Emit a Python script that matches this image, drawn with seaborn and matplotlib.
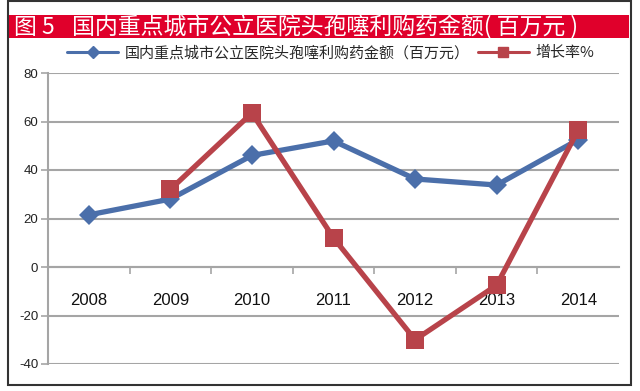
import matplotlib
matplotlib.use("Agg")
import matplotlib.pyplot as plt
import seaborn as sns
import pandas as pd
import numpy as np
from matplotlib.patches import Rectangle
from matplotlib.lines import Line2D

years = ["2008", "2009", "2010", "2011", "2012", "2013", "2014"]
amount = [21.5, 28.0, 46.0, 52.0, 36.3, 33.8, 52.5]
growth = [None, 32.0, 63.5, 12.0, -30.0, -7.5, 56.5]
series_names = ["国内重点城市公立医院头孢噻利购药金额（百万元）", "增长率%"]
title_left = "图 5"
title_main = "国内重点城市公立医院头孢噻利购药金额( 百万元 )"
yticks = [-40, -20, 0, 20, 40, 60, 80]

sns.set_theme(style="white")
plt.rcParams["font.family"] = ["Noto Sans CJK SC", "DejaVu Sans"]

blue = "#4B6FAA"
red = "#B8434A"
grid_c = "#A5A5A5"

fig = plt.figure(figsize=(6.4, 3.91), dpi=100)
ax = fig.add_axes([48/640, 1-364/391, (619-48)/640, (364-73)/391])

df = pd.DataFrame({"idx": np.arange(len(years)), "amount": amount,
                   "growth": pd.Series(growth, dtype=float)})

sns.lineplot(data=df, x="idx", y="amount", ax=ax, color=blue, lw=3.8,
             marker="D", markersize=10, markeredgewidth=0, zorder=3)
sns.lineplot(data=df.dropna(), x="idx", y="growth", ax=ax, color=red, lw=3.8,
             marker="s", markersize=13, markeredgewidth=0, zorder=4)

ax.set_xlim(-0.5, len(years) - 0.5)
ax.set_ylim(-40, 80)
ax.set_yticks(yticks)
ax.set_yticklabels([str(v) for v in yticks], fontsize=9.5, color="#222222",
                   family=["Liberation Sans"])
ax.yaxis.grid(True, color=grid_c, lw=1.5)
ax.set_axisbelow(True)
ax.tick_params(axis="y", left=True, length=5, width=1.2, color=grid_c, pad=2)
for s in ["top", "right"]:
    ax.spines[s].set_visible(False)
ax.spines["left"].set_color(grid_c)
ax.spines["left"].set_linewidth(1.5)
ax.spines["bottom"].set_position(("data", 0))
ax.spines["bottom"].set_color(grid_c)
ax.spines["bottom"].set_linewidth(1.5)
ax.set_xticks(np.arange(len(years)))
ax.set_xticklabels(years, fontsize=12, color="#111111", family=["Liberation Sans"])
ax.set_xticks(np.arange(len(years) - 1) + 0.5, minor=True)
ax.tick_params(axis="x", which="major", bottom=False, length=0, pad=19)
ax.tick_params(axis="x", which="minor", bottom=True, length=5, width=1.2,
               color=grid_c, direction="out")
ax.set_xlabel("")
ax.set_ylabel("")

handles = [Line2D([], [], color=blue, lw=2.2, marker="D", markersize=6),
           Line2D([], [], color=red, lw=2.2, marker="s", markersize=7)]
fig.legend(handles, series_names, loc="center", bbox_to_anchor=(0.517, 1-53/391),
           ncol=2, frameon=False, fontsize=10.8, handlelength=3.4,
           columnspacing=0.5, handletextpad=0.45)

# frame and title bar
fig.patches.append(Rectangle((8/640, 1-385/391), 623/640, 385/391 - 0.002,
                             transform=fig.transFigure, fill=False,
                             edgecolor="#333333", lw=1.5))
fig.patches.append(Rectangle((9/640, 1-38/391), 620/640, 23/391,
                             transform=fig.transFigure, facecolor="#E0002B",
                             edgecolor="none"))
fig.text(14/640, 1-27/391, title_left, color="white", fontsize=16.5,
         va="center", ha="left")
fig.text(72/640, 1-27/391, title_main, color="white", fontsize=16.5,
         va="center", ha="left")

fig.savefig("out.png", dpi=100)
